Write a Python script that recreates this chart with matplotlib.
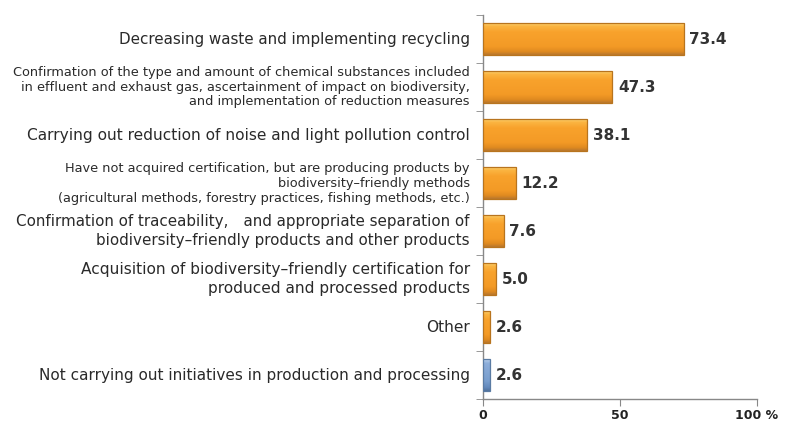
import numpy as np
import matplotlib
matplotlib.use("Agg")
import matplotlib.pyplot as plt
from matplotlib.colors import LinearSegmentedColormap

# categories top -> bottom
labels = [
    "Decreasing waste and implementing recycling",
    "Confirmation of the type and amount of chemical substances included\n"
    "in effluent and exhaust gas, ascertainment of impact on biodiversity,\n"
    "and implementation of reduction measures",
    "Carrying out reduction of noise and light pollution control",
    "Have not acquired certification, but are producing products by\n"
    "biodiversity\u2013friendly methods\n"
    "(agricultural methods, forestry practices, fishing methods, etc.)",
    "Confirmation of traceability,\u3000and appropriate separation of\n"
    "biodiversity\u2013friendly products and other products",
    "Acquisition of biodiversity\u2013friendly certification for\n"
    "produced and processed products",
    "Other",
    "Not carrying out initiatives in production and processing",
]
values = [73.4, 47.3, 38.1, 12.2, 7.6, 5.0, 2.6, 2.6]
label_sizes = [10.9, 9.3, 11.1, 9.3, 10.9, 11.1, 11.1, 11.0]
label_spacing = [1.1, 1.15, 1.1, 1.2, 1.3, 1.3, 1.1, 1.1]
xticks = [0, 50, 100]
xticklabels = ["0", "50", "100 %"]

orange_cm = LinearSegmentedColormap.from_list(
    "og", [(0.0, "#FDDC80"), (0.12, "#FBB441"), (0.3, "#F8A22C"),
           (0.75, "#F39A26"), (0.9, "#E08A20"), (1.0, "#B9782E")])
blue_cm = LinearSegmentedColormap.from_list(
    "bl", [(0.0, "#C8DAF0"), (0.15, "#8DAEDA"), (0.7, "#789DCD"),
           (0.9, "#6288BB"), (1.0, "#52729C")])
orange_edge = "#B8741E"
blue_edge = "#5A7BA3"

fig = plt.figure(figsize=(7.9, 4.21), dpi=100)
ax = fig.add_axes([0.611, 0.052, 0.347, 0.912])

n = len(values)
ypos = np.arange(n)[::-1]
bh = 0.68
grad = np.linspace(0, 1, 64).reshape(-1, 1)
for i, (y, v) in enumerate(zip(ypos, values)):
    cm = blue_cm if i == n - 1 else orange_cm
    ec = blue_edge if i == n - 1 else orange_edge
    bar = ax.barh(y, v, height=bh, color="none", edgecolor=ec, linewidth=0.9, zorder=4)[0]
    # gradient fill clipped to the bar outline
    im = ax.imshow(grad, cmap=cm, aspect="auto", origin="upper",
                   extent=[0, v, y - bh / 2, y + bh / 2], zorder=3)
    im.set_clip_path(bar)
    ax.text(v + 2.0, y, f"{v:.1f}", va="center", ha="left", fontsize=11,
            fontweight="bold", color="#333333", family="DejaVu Sans")

for y, lab, fs, ls in zip(ypos, labels, label_sizes, label_spacing):
    ax.text(-4.7, y, lab, ha="right", va="center", fontsize=fs, color="#2a2a2a",
            family=["DejaVu Sans", "Noto Sans CJK JP"], linespacing=ls,
            clip_on=False)

ax.set_xlim(0, 100)
ax.set_ylim(-0.5, n - 0.5)

ax.set_yticks([])
ax.set_yticks(np.arange(n + 1) - 0.5, minor=True)
ax.tick_params(axis="y", which="minor", length=5, color="#888888", direction="out")
ax.set_xticks(xticks)
ax.set_xticklabels(xticklabels, fontsize=9, fontweight="bold", color="#222222")
ax.tick_params(axis="x", length=5, color="#888888", pad=2)

for side in ["top", "right"]:
    ax.spines[side].set_visible(False)
for side in ["left", "bottom"]:
    ax.spines[side].set_color("#888888")
    ax.spines[side].set_linewidth(1.0)

fig.savefig("out.png", dpi=100)
